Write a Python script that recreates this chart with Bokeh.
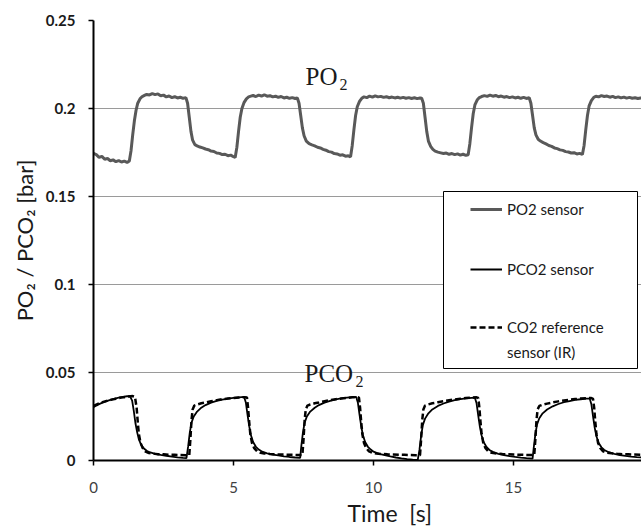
from bokeh.plotting import figure
from bokeh.models import (Legend, LegendItem, Label, BoxAnnotation, FixedTicker, Title)
from bokeh.embed import file_html
from bokeh.resources import INLINE

# ---------------- data ----------------
po2_t = [0.00, 0.10, 0.20, 0.30, 0.40, 0.50, 0.60, 0.70, 0.80, 0.90, 1.00, 1.10, 1.20, 1.28,
         1.34, 1.40, 1.46, 1.52, 1.58, 1.66, 1.74, 1.82,
         1.90, 2.00, 2.10, 2.20, 2.30, 2.40, 2.50, 2.60, 2.70, 2.80, 2.90, 3.00, 3.10, 3.20, 3.30,
         3.36, 3.42, 3.48, 3.54, 3.62,
         3.70, 3.80, 3.90, 4.00, 4.10, 4.20, 4.30, 4.40, 4.50, 4.60, 4.70, 4.80, 4.90, 5.00, 5.06,
         5.12, 5.18, 5.24, 5.30, 5.38, 5.46, 5.54,
         5.62, 5.70, 5.80, 5.90, 6.00, 6.10, 6.20, 6.30, 6.40, 6.50, 6.60, 6.70, 6.80, 6.90, 7.00, 7.10, 7.20, 7.28,
         7.34, 7.40, 7.46, 7.52, 7.60, 7.70,
         7.80, 7.90, 8.00, 8.10, 8.20, 8.30, 8.40, 8.50, 8.60, 8.70, 8.80, 8.90, 9.00, 9.10, 9.18,
         9.24, 9.30, 9.36, 9.42, 9.50, 9.58,
         9.66, 9.76, 9.86, 9.96, 10.06, 10.16, 10.26, 10.36, 10.46, 10.56, 10.66, 10.76, 10.86, 10.96,
         11.06, 11.16, 11.26, 11.36, 11.46, 11.56, 11.66, 11.72,
         11.78, 11.84, 11.90, 11.96, 12.04,
         12.12, 12.20, 12.30, 12.40, 12.50, 12.60, 12.70, 12.80, 12.90, 13.00, 13.10, 13.20, 13.30, 13.38,
         13.44, 13.50, 13.56, 13.62, 13.70, 13.78,
         13.86, 13.96, 14.06, 14.16, 14.26, 14.36, 14.46, 14.56, 14.66, 14.76, 14.86, 14.96, 15.06, 15.16,
         15.26, 15.36, 15.46, 15.56,
         15.62, 15.68, 15.74, 15.80, 15.88,
         15.96, 16.06, 16.16, 16.26, 16.36, 16.46, 16.56, 16.66, 16.76, 16.86, 16.96, 17.06, 17.16, 17.26,
         17.36, 17.46,
         17.52, 17.58, 17.64, 17.70, 17.78, 17.86,
         17.94, 18.04, 18.14, 18.24, 18.34, 18.44, 18.54, 18.64, 18.74, 18.84, 18.94, 19.04, 19.14, 19.24,
         19.34, 19.44, 19.54, 19.62]
po2_v = [0.1745, 0.1738, 0.1722, 0.1728, 0.1712, 0.1716, 0.1703, 0.1708, 0.1698, 0.1704, 0.1696, 0.1701, 0.1694, 0.1702,
         0.1760, 0.1850, 0.1930, 0.1990, 0.2030, 0.2055, 0.2068, 0.2074,
         0.2080, 0.2077, 0.2085, 0.2079, 0.2083, 0.2072, 0.2076, 0.2066, 0.2071, 0.2062, 0.2067, 0.2060, 0.2064, 0.2058, 0.2062,
         0.2030, 0.1950, 0.1870, 0.1820, 0.1795,
         0.1788, 0.1781, 0.1776, 0.1770, 0.1766, 0.1758, 0.1756, 0.1747, 0.1745, 0.1738, 0.1740, 0.1732, 0.1735, 0.1726, 0.1722,
         0.1780, 0.1870, 0.1950, 0.2000, 0.2035, 0.2055, 0.2066,
         0.2070, 0.2074, 0.2068, 0.2076, 0.2071, 0.2078, 0.2070, 0.2073, 0.2066, 0.2070, 0.2063, 0.2068, 0.2060, 0.2064, 0.2058, 0.2062, 0.2057, 0.2060,
         0.2030, 0.1960, 0.1890, 0.1845, 0.1815, 0.1800,
         0.1793, 0.1788, 0.1780, 0.1776, 0.1768, 0.1763, 0.1755, 0.1752, 0.1744, 0.1742, 0.1735, 0.1737, 0.1729, 0.1731, 0.1725,
         0.1790, 0.1880, 0.1960, 0.2010, 0.2040, 0.2058,
         0.2066, 0.2062, 0.2070, 0.2065, 0.2072, 0.2066, 0.2069, 0.2063, 0.2067, 0.2061, 0.2065, 0.2060, 0.2064, 0.2059,
         0.2063, 0.2058, 0.2062, 0.2057, 0.2061, 0.2056, 0.2060, 0.2058,
         0.2030, 0.1950, 0.1870, 0.1815, 0.1785,
         0.1768, 0.1758, 0.1752, 0.1748, 0.1744, 0.1747, 0.1740, 0.1744, 0.1738, 0.1742, 0.1735, 0.1740, 0.1734, 0.1737,
         0.1800, 0.1890, 0.1970, 0.2020, 0.2048, 0.2062,
         0.2068, 0.2073, 0.2069, 0.2076, 0.2070, 0.2074, 0.2067, 0.2071, 0.2064, 0.2068, 0.2062, 0.2066, 0.2060, 0.2064,
         0.2058, 0.2063, 0.2057, 0.2061,
         0.2030, 0.1960, 0.1890, 0.1850, 0.1825,
         0.1815, 0.1806, 0.1799, 0.1790, 0.1785, 0.1776, 0.1772, 0.1765, 0.1762, 0.1755, 0.1753, 0.1747, 0.1749, 0.1742,
         0.1745, 0.1739,
         0.1790, 0.1880, 0.1960, 0.2015, 0.2045, 0.2062,
         0.2070, 0.2066, 0.2073, 0.2068, 0.2071, 0.2064, 0.2069, 0.2062, 0.2066, 0.2060, 0.2065, 0.2059, 0.2063, 0.2058,
         0.2061, 0.2057, 0.2060, 0.2058]

pco2_t = [0.00, 0.10, 0.20, 0.30, 0.40, 0.50, 0.60, 0.70, 0.80, 0.90, 1.00, 1.10, 1.20, 1.30,
          1.38, 1.44, 1.50, 1.56, 1.62, 1.70, 1.80, 1.90, 2.00, 2.20, 2.40, 2.60, 2.80, 3.00, 3.20, 3.32,
          3.38, 3.44, 3.50, 3.58, 3.70, 3.85, 4.00, 4.20, 4.40, 4.60, 4.80, 5.00, 5.20, 5.38,
          5.44, 5.50, 5.56, 5.62, 5.70, 5.80, 5.90, 6.00, 6.20, 6.40, 6.60, 6.80, 7.00, 7.20, 7.38,
          7.42, 7.48, 7.54, 7.62, 7.74, 7.90, 8.05, 8.25, 8.45, 8.65, 8.85, 9.05, 9.25, 9.38,
          9.44, 9.50, 9.56, 9.62, 9.70, 9.80, 9.90, 10.00, 10.20, 10.40, 10.60, 10.80, 11.00, 11.20, 11.40, 11.58,
          11.64, 11.70, 11.76, 11.84, 11.96, 12.10, 12.30, 12.50, 12.70, 12.90, 13.10, 13.30, 13.50, 13.62,
          13.68, 13.74, 13.80, 13.86, 13.94, 14.04, 14.14, 14.26, 14.46, 14.66, 14.86, 15.06, 15.26, 15.46, 15.68,
          15.72, 15.78, 15.84, 15.92, 16.04, 16.20, 16.40, 16.60, 16.80, 17.00, 17.20, 17.40, 17.60, 17.72,
          17.78, 17.84, 17.90, 17.96, 18.04, 18.14, 18.24, 18.40, 18.60, 18.80, 19.00, 19.20, 19.40, 19.62]
pco2_v = [0.0302, 0.0312, 0.0320, 0.0327, 0.0333, 0.0339, 0.0344, 0.0349, 0.0353, 0.0357, 0.0360, 0.0363, 0.0365, 0.0366,
          0.0340, 0.0280, 0.0210, 0.0160, 0.0120, 0.0090, 0.0068, 0.0055, 0.0047, 0.0038, 0.0032, 0.0027, 0.0022, 0.0018, 0.0015, 0.0014,
          0.0080, 0.0160, 0.0215, 0.0250, 0.0278, 0.0300, 0.0315, 0.0329, 0.0339, 0.0346, 0.0352, 0.0356, 0.0359, 0.0361,
          0.0330, 0.0260, 0.0195, 0.0145, 0.0105, 0.0078, 0.0062, 0.0052, 0.0041, 0.0034, 0.0029, 0.0024, 0.0020, 0.0017, 0.0015,
          0.0080, 0.0160, 0.0215, 0.0250, 0.0278, 0.0300, 0.0315, 0.0329, 0.0339, 0.0347, 0.0353, 0.0357, 0.0360, 0.0361,
          0.0330, 0.0260, 0.0195, 0.0145, 0.0105, 0.0078, 0.0062, 0.0050, 0.0038, 0.0030, 0.0023, 0.0017, 0.0012, 0.0008, 0.0005, 0.0003,
          0.0060, 0.0140, 0.0200, 0.0238, 0.0268, 0.0290, 0.0310, 0.0324, 0.0335, 0.0343, 0.0349, 0.0353, 0.0356, 0.0357,
          0.0325, 0.0255, 0.0190, 0.0142, 0.0102, 0.0076, 0.0060, 0.0049, 0.0038, 0.0031, 0.0025, 0.0020, 0.0016, 0.0013, 0.0011,
          0.0070, 0.0150, 0.0205, 0.0240, 0.0268, 0.0290, 0.0308, 0.0321, 0.0331, 0.0338, 0.0344, 0.0348, 0.0351, 0.0352,
          0.0320, 0.0250, 0.0185, 0.0138, 0.0100, 0.0075, 0.0060, 0.0047, 0.0038, 0.0031, 0.0026, 0.0022, 0.0019, 0.0017]

ref_t = [0.00, 0.10, 0.20, 0.35, 0.50, 0.65, 0.80, 0.95, 1.10, 1.25, 1.40, 1.48,
         1.54, 1.58, 1.62, 1.68, 1.76, 1.86, 1.98, 2.10, 2.30, 2.50, 2.70, 2.90, 3.10, 3.30, 3.42,
         3.46, 3.50, 3.54, 3.60, 3.70, 3.85, 4.00, 4.20, 4.40, 4.60, 4.80, 5.00, 5.20, 5.40, 5.48,
         5.52, 5.56, 5.60, 5.66, 5.74, 5.84, 5.96, 6.10, 6.30, 6.50, 6.70, 6.90, 7.10, 7.30, 7.46,
         7.50, 7.54, 7.58, 7.64, 7.74, 7.90, 8.05, 8.25, 8.45, 8.65, 8.85, 9.05, 9.25, 9.42, 9.48,
         9.52, 9.56, 9.60, 9.66, 9.74, 9.84, 9.96, 10.10, 10.30, 10.50, 10.70, 10.90, 11.10, 11.30, 11.50, 11.66,
         11.70, 11.74, 11.78, 11.84, 11.94, 12.10, 12.30, 12.50, 12.70, 12.90, 13.10, 13.30, 13.50, 13.68, 13.74,
         13.78, 13.82, 13.86, 13.92, 14.00, 14.10, 14.22, 14.40, 14.60, 14.80, 15.00, 15.20, 15.40, 15.60, 15.74,
         15.78, 15.82, 15.86, 15.92, 16.02, 16.20, 16.40, 16.60, 16.80, 17.00, 17.20, 17.40, 17.60, 17.78, 17.84,
         17.88, 17.92, 17.96, 18.02, 18.10, 18.20, 18.32, 18.50, 18.70, 18.90, 19.10, 19.30, 19.62]
ref_v = [0.0310, 0.0318, 0.0325, 0.0333, 0.0340, 0.0346, 0.0351, 0.0356, 0.0360, 0.0363, 0.0366, 0.0362,
         0.0300, 0.0220, 0.0150, 0.0100, 0.0070, 0.0050, 0.0042, 0.0040, 0.0036, 0.0035, 0.0033, 0.0032, 0.0031, 0.0030, 0.0030,
         0.0120, 0.0230, 0.0290, 0.0312, 0.0318, 0.0325, 0.0330, 0.0337, 0.0343, 0.0348, 0.0352, 0.0355, 0.0358, 0.0360, 0.0358,
         0.0300, 0.0220, 0.0150, 0.0100, 0.0070, 0.0052, 0.0044, 0.0040, 0.0037, 0.0035, 0.0034, 0.0033, 0.0032, 0.0031, 0.0031,
         0.0120, 0.0230, 0.0290, 0.0312, 0.0318, 0.0325, 0.0330, 0.0337, 0.0343, 0.0348, 0.0352, 0.0356, 0.0359, 0.0361, 0.0357,
         0.0300, 0.0220, 0.0150, 0.0100, 0.0070, 0.0052, 0.0044, 0.0040, 0.0037, 0.0035, 0.0034, 0.0033, 0.0032, 0.0031, 0.0030, 0.0030,
         0.0120, 0.0230, 0.0290, 0.0312, 0.0318, 0.0325, 0.0331, 0.0337, 0.0342, 0.0347, 0.0351, 0.0355, 0.0358, 0.0359, 0.0355,
         0.0300, 0.0220, 0.0150, 0.0100, 0.0070, 0.0052, 0.0044, 0.0040, 0.0037, 0.0035, 0.0034, 0.0033, 0.0032, 0.0031, 0.0031,
         0.0120, 0.0230, 0.0290, 0.0310, 0.0316, 0.0323, 0.0330, 0.0336, 0.0341, 0.0345, 0.0349, 0.0352, 0.0354, 0.0355, 0.0350,
         0.0300, 0.0220, 0.0150, 0.0100, 0.0070, 0.0052, 0.0045, 0.0041, 0.0038, 0.0036, 0.0035, 0.0034, 0.0033]

x_ticks = [0, 5, 10, 15]
y_ticks = [0, 0.05, 0.1, 0.15, 0.2, 0.25]
y_tick_labels = ["0", "0.05", "0.1", "0.15", "0.2", "0.25"]
series_names = ["PO2 sensor", "PCO2 sensor", "CO2 reference", "sensor (IR)"]

# ---------------- figure ----------------
FONT = "Lato"
p = figure(width=641, height=532, output_backend="svg", toolbar_location=None,
           x_range=(0, 19.57), y_range=(0, 0.25),
           min_border_left=93, min_border_right=0, min_border_top=20, min_border_bottom=72)
p.outline_line_color = None
p.background_fill_color = "white"
p.border_fill_color = "white"

p.xgrid.visible = False
p.ygrid.ticker = FixedTicker(ticks=y_ticks)
p.ygrid.grid_line_color = "#9a9a9a"
p.ygrid.grid_line_width = 1

p.yaxis.ticker = FixedTicker(ticks=y_ticks)
p.yaxis.major_label_overrides = {t: l for t, l in zip(y_ticks, y_tick_labels)}
p.xaxis.ticker = FixedTicker(ticks=x_ticks)

for ax in (p.xaxis[0], p.yaxis[0]):
    ax.axis_line_color = "black"
    ax.axis_line_width = 2
    ax.major_tick_line_color = "black"
    ax.major_tick_line_width = 1.5
    ax.major_tick_out = 5
    ax.major_tick_in = 0
    ax.minor_tick_line_color = None
    ax.major_label_text_font = FONT
    ax.major_label_text_font_size = "15px"

p.yaxis.major_label_text_font_style = "bold"
p.yaxis.major_label_text_color = "#1a1a1a"
p.yaxis.major_label_standoff = 13
p.xaxis.major_label_text_color = "#404040"
p.xaxis.major_label_standoff = 16

p.yaxis.axis_label = "PO\u2082 / PCO\u2082 [bar]"
p.yaxis.axis_label_text_font = FONT
p.yaxis.axis_label_text_font_size = "22px"
p.yaxis.axis_label_text_font_style = "normal"
p.yaxis.axis_label_text_color = "#1a1a1a"
p.yaxis.axis_label_standoff = 5

p.add_layout(Title(text="Time\u00a0\u00a0[s]", align="left", offset=254, standoff=5,
                   vertical_align="middle", text_font=FONT, text_font_size="23px",
                   text_font_style="normal", text_color="#1a1a1a"), "below")

# ---------------- series ----------------
r_po2 = p.line(po2_t, po2_v, line_color="#595959", line_width=3)
r_pco2 = p.line(pco2_t, pco2_v, line_color="black", line_width=1.8)
r_ref = p.line(ref_t, ref_v, line_color="black", line_width=2.5, line_dash="6 3")

# ---------------- annotations ----------------
serif = "Liberation Serif"
for txt, xs, ys, size in [("PO", 212, 384, "25px"), ("2", 246, 376, "16px"),
                          ("PCO", 211, 87, "25px"), ("2", 262, 79, "16px")]:
    p.add_layout(Label(x=xs, y=ys, x_units="screen", y_units="screen", text=txt,
                       text_font=serif, text_font_size=size, text_color="#1a1a1a",
                       text_baseline="alphabetic", text_align="left"))

# legend frame
p.add_layout(BoxAnnotation(left=350, right=544, top=269, bottom=92,
                           left_units="screen", right_units="screen",
                           top_units="screen", bottom_units="screen",
                           fill_color="white", fill_alpha=1.0,
                           line_color="black", line_alpha=1.0, line_width=1))

def add_legend(label, renderers, y):
    lg = Legend(items=[LegendItem(label=label, renderers=renderers)],
                location=(377, y), orientation="vertical",
                border_line_alpha=0, background_fill_alpha=0,
                padding=0, margin=0, spacing=0,
                glyph_width=32, glyph_height=20, label_height=20, label_standoff=5,
                label_text_font=FONT, label_text_font_size="15px",
                label_text_color="#1a1a1a", label_text_baseline="middle")
    p.add_layout(lg)

add_legend(series_names[0], [r_po2], 241)
add_legend(series_names[1], [r_pco2], 181)
add_legend(series_names[2], [r_ref], 123)
add_legend(series_names[3], [], 98)

open("out.html", "w").write(file_html(p, INLINE))
